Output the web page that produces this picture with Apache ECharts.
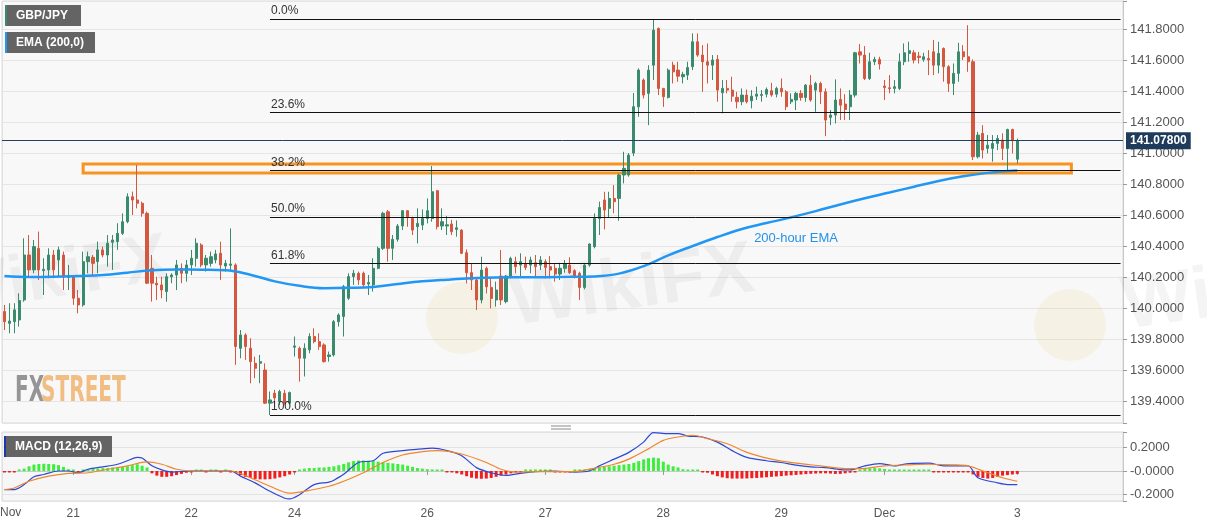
<!DOCTYPE html>
<html><head><meta charset="utf-8">
<script src="https://cdn.jsdelivr.net/npm/echarts@6/dist/echarts.min.js"></script>
<style>html,body{margin:0;padding:0;background:#fff}#c{width:1207px;height:526px}</style>
</head><body><div id="c"></div>
<script>
// hourly slots on the category axis (candles fill the first 207, the rest is empty space)
const slotCount = 228;
const dayTickIndex = [14, 38, 59, 86, 110, 134, 158, 179, 206];
const dayTickLabel = ['21', '22', '24', '26', '27', '28', '29', 'Dec', '3'];
const monthStartIndex = 179;

// GBP/JPY hourly candles: [open, high, low, close]
const candles = [
[139.977,140.020,139.858,139.912],[139.901,140.031,139.837,139.916],[139.912,140.031,139.837,139.988],[139.923,140.095,139.880,140.048],
[140.052,140.450,140.041,140.342],[140.342,140.471,140.202,140.246],[140.246,140.439,140.224,140.396],[140.385,140.493,140.181,140.246],
[140.241,140.321,140.084,140.250],[140.246,140.385,140.192,140.342],[140.342,140.375,140.192,140.246],[140.310,140.396,140.202,140.375],
[140.342,140.364,140.116,140.202],[140.198,140.278,140.116,140.207],[140.202,140.213,140.020,140.063],[140.063,140.116,139.966,140.020],
[140.020,140.364,140.009,140.299],[140.299,140.364,140.224,140.331],[140.327,140.342,140.213,140.288],[140.299,140.428,140.224,140.375],
[140.375,140.396,140.327,140.342],[140.342,140.471,140.267,140.418],[140.424,140.471,140.246,140.439],[140.428,140.547,140.375,140.482],
[140.482,140.611,140.471,140.557],[140.557,140.740,140.547,140.718],[140.718,140.751,140.600,140.697],[140.697,140.923,140.643,140.676],
[140.676,140.686,140.589,140.611],[140.611,140.622,140.155,140.160],[140.256,140.342,140.041,140.160],[140.160,140.202,140.052,140.149],
[140.149,140.202,140.063,140.116],[140.106,140.224,140.041,140.202],[140.202,140.224,140.160,140.213],[140.213,140.310,140.116,140.278],
[140.256,140.288,140.160,140.224],[140.224,140.310,140.170,140.278],[140.278,140.375,140.213,140.321],[140.321,140.450,140.267,140.418],
[140.407,140.418,140.263,140.278],[140.278,140.342,140.235,140.321],[140.288,140.364,140.267,140.331],[140.310,140.375,140.288,140.349],
[140.353,140.428,140.181,140.278],[140.271,140.310,140.235,140.288],[140.276,140.514,140.235,140.284],[140.278,140.288,139.633,139.751],
[139.740,139.858,139.676,139.826],[139.826,139.837,139.665,139.751],[139.740,139.805,139.514,139.654],[139.643,139.686,139.547,139.611],
[139.644,139.697,139.515,139.654],[139.600,139.643,139.381,139.386],[139.386,139.461,139.310,139.407],[139.450,139.472,139.375,139.420],
[139.396,139.472,139.375,139.461],[139.450,139.472,139.375,139.386],[139.386,139.461,139.375,139.454],[139.747,139.816,139.687,139.755],
[139.740,139.751,139.525,139.676],[139.676,139.772,139.558,139.740],[139.730,139.837,139.708,139.816],[139.816,139.869,139.772,139.783],
[139.783,139.837,139.730,139.751],[139.762,139.772,139.648,139.654],[139.687,139.719,139.654,139.697],[139.697,139.923,139.687,139.912],
[139.912,139.966,139.880,139.955],[139.945,140.149,139.816,140.138],[140.063,140.224,140.052,140.203],[140.203,140.246,140.149,140.224],
[140.224,140.235,140.149,140.181],[140.224,140.235,140.138,140.149],[140.155,140.213,140.084,140.164],[140.149,140.321,140.106,140.256],
[140.256,140.396,140.250,140.385],[140.385,140.621,140.374,140.611],[140.621,140.632,140.299,140.385],[140.385,140.471,140.310,140.443],
[140.443,140.542,140.428,140.529],[140.529,140.632,140.503,140.628],[140.628,140.632,140.524,140.589],[140.578,140.589,140.471,140.503],
[140.525,140.643,140.417,140.546],[140.535,140.636,140.503,140.578],[140.578,140.707,140.546,140.628],[140.578,140.916,140.557,140.750],
[140.757,140.760,140.507,140.525],[140.529,140.643,140.503,140.557],[140.529,140.593,140.471,140.537],[140.542,140.568,140.471,140.492],
[140.507,140.565,140.460,140.518],[140.503,140.507,140.348,140.353],[140.357,140.378,140.159,140.228],[140.228,140.288,140.116,140.181],
[140.181,140.191,139.987,140.052],[140.052,140.331,140.030,140.245],[140.256,140.267,140.094,140.137],[140.133,140.198,139.998,140.062],
[140.052,140.170,140.009,140.116],[140.206,140.374,140.019,140.052],[140.041,140.213,140.030,140.206],[140.202,140.331,140.191,140.320],
[140.299,140.331,140.224,140.267],[140.277,140.353,140.206,140.299],[140.284,140.331,140.245,140.262],[140.277,140.331,140.224,140.310],
[140.292,140.342,140.202,140.267],[140.277,140.335,140.245,140.310],[140.299,140.314,140.191,140.262],[140.267,140.335,140.191,140.245],
[140.256,140.288,140.170,140.219],[140.219,140.292,140.181,140.256],[140.256,140.310,140.228,140.284],[140.277,140.327,140.219,140.228],
[140.241,140.250,140.191,140.202],[140.224,140.234,140.052,140.133],[140.133,140.288,140.120,140.277],[140.277,140.417,140.267,140.413],
[140.396,140.611,140.385,140.578],[140.578,140.686,140.471,140.649],[140.697,140.750,140.507,140.632],[140.643,140.750,140.585,140.707],
[140.707,140.793,140.611,140.686],[140.707,140.868,140.563,140.858],[140.858,141.008,140.804,140.901],[140.858,141.000,140.847,140.987],
[141.000,141.387,140.980,141.299],[141.298,141.546,141.234,141.535],[141.471,141.481,141.352,141.374],[141.385,141.567,141.180,141.535],
[141.567,141.862,141.471,141.793],[141.804,141.810,141.374,141.417],[141.417,141.420,141.298,141.363],[141.359,141.546,141.352,141.535],
[141.567,141.589,141.449,141.524],[141.535,141.589,141.460,141.496],[141.492,141.524,141.449,141.507],[141.503,141.589,141.471,141.552],
[141.557,141.772,141.535,141.718],[141.718,141.772,141.621,141.632],[141.632,141.696,141.395,141.589],[141.589,141.707,141.449,141.567],
[141.567,141.632,141.471,141.600],[141.604,141.632,141.331,141.406],[141.389,141.471,141.256,141.417],[141.417,141.471,141.385,141.406],
[141.406,141.492,141.331,141.367],[141.359,141.395,141.288,141.331],[141.331,141.417,141.309,141.374],[141.374,141.410,141.320,141.331],
[141.337,141.406,141.288,141.367],[141.367,141.428,141.342,141.380],[141.372,141.406,141.331,141.378],[141.380,141.423,141.359,141.410],
[141.402,141.453,141.363,141.374],[141.380,141.428,141.359,141.417],[141.417,141.481,141.363,141.395],[141.395,141.406,141.277,141.299],
[141.331,141.385,141.316,141.346],[141.342,141.395,141.277,141.385],[141.385,141.406,141.337,141.359],[141.359,141.445,141.331,141.438],
[141.438,141.503,141.331,141.342],[141.406,141.460,141.266,141.449],[141.449,141.460,141.316,141.395],[141.395,141.417,141.109,141.213],
[141.230,141.277,141.180,141.245],[141.245,141.475,141.191,141.342],[141.346,141.417,141.213,141.309],[141.316,141.380,141.213,141.281],
[141.299,141.406,141.213,141.374],[141.374,141.653,141.359,141.647],[141.653,141.703,141.578,141.632],[141.632,141.690,141.471,141.481],
[141.481,141.647,141.471,141.589],[141.589,141.621,141.567,141.604],[141.604,141.621,141.539,141.574],[141.432,141.471,141.342,141.423],
[141.421,141.503,141.385,141.415],[141.417,141.471,141.385,141.428],[141.417,141.643,141.406,141.589],[141.589,141.707,141.567,141.647],
[141.643,141.718,141.589,141.660],[141.647,141.664,141.578,141.600],[141.625,141.653,141.578,141.617],[141.604,141.647,141.589,141.621],
[141.610,141.664,141.503,141.600],[141.653,141.729,141.503,141.567],[141.567,141.718,141.514,141.643],[141.675,141.681,141.460,141.557],
[141.557,141.567,141.395,141.449],[141.449,141.578,141.374,141.514],[141.514,141.711,141.460,141.653],[141.653,141.696,141.600,141.621],
[141.621,141.825,141.524,141.589],[141.589,141.604,140.955,140.976],[140.976,141.137,140.965,141.116],[141.127,141.180,140.965,141.019],
[141.030,141.116,140.998,141.051],[141.030,141.116,140.944,141.062],[141.062,141.116,141.019,141.094],[141.084,141.127,140.955,141.030],
[141.030,141.157,140.886,141.152],[141.152,141.157,140.998,141.084],[140.960,141.094,140.933,141.078]
];

// 200-hour EMA: [slot index, value]
const emaPoints = [
[0,140.206],[5,140.200],[10,140.202],[15,140.207],[20,140.213],[25,140.228],[30,140.244],[35,140.248],[40,140.247],
[45,140.244],[50,140.215],[55,140.172],[60,140.143],[65,140.128],[70,140.130],[75,140.136],[80,140.155],[85,140.172],
[90,140.183],[95,140.192],[100,140.197],[105,140.198],[110,140.199],[115,140.201],[120,140.204],[125,140.222],[130,140.270],
[135,140.340],[140,140.400],[145,140.458],[150,140.510],[155,140.548],[160,140.585],[165,140.625],[170,140.668],[175,140.708],
[180,140.745],[185,140.783],[190,140.820],[195,140.850],[200,140.872],[206,140.887]
];

// MACD (12,26,9)
const macdPoints = [
[0,-0.16],[2,-0.16],[4,-0.117],[6,-0.05],[8,-0.03],[11,0],[13,0],[15,-0.015],[17,0.015],[20,0.035],[23,0.058],[25,0.088],
[27,0.117],[28,0.111],[30,0.044],[32,0.009],[34,-0.009],[38,0],[42,0],[46,0],[48,-0.044],[51,-0.102],[54,-0.175],[57,-0.234],
[58,-0.24],[60,-0.204],[63,-0.117],[66,-0.096],[67,-0.079],[69,-0.029],[72,0.073],[75,0.088],[77,0.152],[81,0.175],[85,0.19],
[87,0.196],[90,0.175],[93,0.131],[96,0.029],[99,-0.015],[102,-0.038],[105,-0.02],[108,-0.006],[112,0],[116,-0.009],[119,0],
[121,0.044],[124,0.102],[127,0.16],[130,0.248],[132,0.33],[135,0.321],[137,0.321],[139,0.30],[142,0.292],[145,0.248],[148,0.175],
[151,0.117],[155,0.088],[158,0.073],[161,0.05],[164,0.035],[167,0.029],[171,0.009],[172,0.009],[175,0.044],[178,0.064],[181,0.044],
[184,0.064],[188,0.067],[191,0.044],[194,0.044],[196,0.044],[198,-0.058],[202,-0.102],[204,-0.117],[206,-0.117]
];
const signalPoints = [
[0,-0.16],[2,-0.146],[5,-0.088],[9,-0.044],[13,-0.02],[17,-0.015],[21,0.015],[25,0.044],[29,0.079],[32,0.058],[35,0.015],
[38,0],[46,0],[50,-0.058],[54,-0.131],[58,-0.19],[61,-0.175],[66,-0.131],[69,-0.088],[73,-0.015],[77,0.073],[81,0.137],
[85,0.166],[88,0.175],[93,0.146],[98,0.073],[101,0.015],[104,-0.009],[108,-0.005],[116,-0.005],[119,0.015],[124,0.058],
[127,0.102],[131,0.19],[134,0.263],[137,0.292],[140,0.307],[143,0.277],[147,0.234],[151,0.16],[156,0.102],[161,0.067],
[166,0.044],[171,0.02],[174,0.02],[179,0.044],[184,0.053],[188,0.058],[193,0.053],[196,0.044],[200,-0.015],[203,-0.058],[206,-0.088]
];
const histValues = [
-0.005,-0.01,-0.005,0.005,0.02,0.04,0.055,0.06,0.062,0.06,0.058,0.05,0.035,0.015,0.005,-0.005,
0.01,0.015,0.02,0.02,0.025,0.025,0.03,0.03,0.035,0.04,0.05,0.058,0.045,0.03,
-0.02,-0.04,-0.05,-0.05,-0.045,-0.035,-0.025,-0.015,-0.008,0.003,0.002,-0.002,0.002,0.003,-0.002,0.002,-0.003,
-0.015,-0.035,-0.05,-0.06,-0.068,-0.072,-0.072,-0.07,-0.065,-0.055,-0.045,-0.03,-0.01,
0.01,0.02,0.025,0.025,0.03,0.03,0.035,0.04,0.05,0.06,0.075,0.085,0.09,0.09,0.088,0.085,0.08,0.075,0.07,0.065,0.06,0.055,0.045,0.035,0.025,0.02,0.015,0.012,0.008,0.005,
-0.005,-0.01,-0.02,-0.03,-0.045,-0.058,-0.065,-0.067,-0.065,-0.06,-0.05,-0.04,-0.03,-0.02,-0.012,-0.005,
0.003,0.004,0.005,0.004,0.003,0.002,-0.002,-0.003,-0.003,-0.002,0.002,0.004,0.008,
0.02,0.025,0.03,0.035,0.04,0.045,0.05,0.055,0.06,0.07,0.085,0.1,0.11,0.115,0.11,0.08,0.055,0.04,0.03,0.015,0.008,0.004,0.002,
-0.005,-0.015,-0.03,-0.045,-0.055,-0.062,-0.065,-0.065,-0.065,-0.064,-0.062,-0.06,-0.057,-0.054,-0.05,-0.047,-0.044,-0.04,-0.037,-0.034,-0.03,-0.027,-0.024,-0.022,-0.02,-0.02,-0.022,-0.025,-0.025,-0.02,-0.015,-0.005,
0.01,0.02,0.023,0.025,0.022,0.018,0.01,0.004,0.004,0.005,0.006,0.005,0.004,0.003,0.002,
-0.003,-0.004,-0.008,-0.01,-0.008,-0.006,-0.005,-0.01,-0.03,-0.05,-0.06,-0.065,-0.06,-0.05,-0.04,-0.035,-0.03,-0.025
];

// Fibonacci retracement levels and support zone
const fibLevels = [141.865, 141.262, 140.889, 140.588, 140.287, 139.310];
const fibLabels = ['0.0%', '23.6%', '38.2%', '50.0%', '61.8%', '100.0%'];
const fibStartIndex = 54;
const zoneBounds = [140.871, 140.930];
const zoneIndexRange = [16, 217];
const lastPrice = 141.078;
const emaLabelAt = [161, 140.452];

const chart = echarts.init(document.getElementById('c'));
const slots = [];
for (let i = 0; i < slotCount; i++) slots.push('h' + i);
const isFifth = v => Math.abs(v * 5 - Math.round(v * 5)) < 1e-6;
const labelAt = idx => dayTickIndex.indexOf(idx);
const FONT = '"Liberation Sans", Arial, sans-serif';
const LOGO_FONT = 'bold 36px "Liberation Sans Narrow", "DejaVu Sans Condensed", sans-serif';

const legendBox = (x, y, w, h, stripe, text) => ([
  {type:'rect', z:100, shape:{x:x, y:y, width:w, height:h}, style:{fill:'#646464'}},
  {type:'rect', z:101, shape:{x:x, y:y, width:2, height:h}, style:{fill:stripe}},
  {type:'text', z:102, x:x + 11, y:y + h / 2, style:{text:text, fill:'#fff', font:'bold 12px ' + FONT, textVerticalAlign:'middle'}}
]);

const option = {
  animation:false,
  backgroundColor:'#ffffff',
  textStyle:{fontFamily:FONT},
  grid:[
    {left:2, right:84, top:1, height:422, show:true, backgroundColor:'#f8f8f8', borderColor:'#d9d9d9', borderWidth:1, outerBoundsMode:'none'},
    {left:2, right:84, top:432, height:69, show:true, backgroundColor:'#f6f6f6', borderColor:'#d9d9d9', borderWidth:1, outerBoundsMode:'none'}
  ],
  xAxis:[
    {type:'category', gridIndex:0, data:slots, boundaryGap:true,
     axisLine:{show:false}, axisTick:{show:false}, axisLabel:{show:false},
     splitLine:{show:true, interval:(i)=>i===monthStartIndex, lineStyle:{color:'#e2e2e2'}}},
    {type:'category', gridIndex:1, data:slots, boundaryGap:true,
     axisLine:{show:true, lineStyle:{color:'#c8c8c8'}},
     axisTick:{show:true, alignWithLabel:true, interval:(i)=>labelAt(i)>=0, length:4, lineStyle:{color:'#999'}},
     axisLabel:{show:true, interval:(i)=>labelAt(i)>=0, formatter:(v,i)=>{const k=labelAt(i); return k>=0?dayTickLabel[k]:'';}, color:'#555', fontSize:12, margin:7},
     splitLine:{show:true, interval:(i)=>i===monthStartIndex, lineStyle:{color:'#e2e2e2'}}}
  ],
  yAxis:[
    {type:'value', gridIndex:0, position:'right', min:139.258, max:141.981, splitNumber:13, scale:true,
     axisLine:{show:true, lineStyle:{color:'#c8c8c8'}}, axisTick:{show:true, length:4, lineStyle:{color:'#999'}},
     axisLabel:{color:'#555', fontSize:13, margin:7, formatter:v=>isFifth(v)?v.toFixed(4):''},
     splitLine:{show:true, lineStyle:{color:'#e5e5e5'}}},
    {type:'value', gridIndex:1, position:'right', min:-0.258, max:0.335, splitNumber:3,
     axisLine:{show:true, lineStyle:{color:'#c8c8c8'}}, axisTick:{show:true, length:4, lineStyle:{color:'#999'}},
     axisLabel:{color:'#555', fontSize:13, margin:7, formatter:v=>!isFifth(v)?'':(Math.abs(v)<1e-9?'-0.0000':v.toFixed(4))},
     splitLine:{show:true, lineStyle:{color:'#e3e3e3'}}}
  ],
  series:[
    {type:'candlestick', name:'GBP/JPY', xAxisIndex:0, yAxisIndex:0, barWidth:2.6, z:2,
     data:candles.map(r=>[r[0], r[3], r[2], r[1]]),
     itemStyle:{color:'#3a8b6d', color0:'#d4573f', borderColor:'#3a8b6d', borderColor0:'#d4573f', borderWidth:1},
     markLine:{symbol:['none','none'], silent:true, animation:false,
       data:fibLevels.map((v,k)=>[
         {coord:[fibStartIndex, v], lineStyle:{color:'#111', width:1, type:'solid'},
          label:{show:true, position:'insideStartTop', formatter:fibLabels[k], color:'#333', fontSize:12, distance:[1,2]}},
         {coord:[slotCount-1, v]}
       ]).concat([
         {yAxis:lastPrice, lineStyle:{color:'#24405f', width:1, type:'solid'},
          label:{show:true, position:'end', formatter:lastPrice.toFixed(5), backgroundColor:'#1f3b5c', color:'#fff', fontWeight:'bold', fontSize:12, padding:[3,4,2,4], distance:3}}
       ])},
     markArea:{silent:true, itemStyle:{color:'rgba(0,0,0,0)', borderColor:'#f7931e', borderWidth:3},
       data:[[{coord:[zoneIndexRange[0], zoneBounds[1]]}, {coord:[zoneIndexRange[1], zoneBounds[0]]}]]}
    },
    {type:'line', name:'EMA (200,0)', xAxisIndex:0, yAxisIndex:0, data:emaPoints, smooth:0.4, showSymbol:false, z:3,
     lineStyle:{color:'#2196f3', width:2.5},
     markPoint:{silent:true, symbol:'rect', symbolSize:1, itemStyle:{color:'rgba(0,0,0,0)'},
       data:[{coord:emaLabelAt, label:{show:true, position:'inside', formatter:'200-hour EMA', color:'#2592e6', fontSize:13}}]}},
    {type:'bar', name:'hist', xAxisIndex:1, yAxisIndex:1, data:histValues, barWidth:3, barMinHeight:1.5,
     itemStyle:{color:p=>p.value>=0?'#3cef3c':'#f01e1e'}},
    {type:'line', name:'MACD', xAxisIndex:1, yAxisIndex:1, data:macdPoints, smooth:0.3, showSymbol:false, z:4,
     lineStyle:{color:'#2d47d6', width:1.2}},
    {type:'line', name:'Signal', xAxisIndex:1, yAxisIndex:1, data:signalPoints, smooth:0.3, showSymbol:false, z:4,
     lineStyle:{color:'#f0862a', width:1.2}}
  ],
  graphic:{elements:[].concat(
    legendBox(5, 5, 76, 21, '#3a8b6d', 'GBP/JPY'),
    legendBox(5, 32, 90, 21, '#2196f3', 'EMA (200,0)'),
    legendBox(4, 436, 108, 21, '#1b3aa8', 'MACD (12,26,9)'),
    [
      {type:'text', z:1, x:-60, y:262, rotation:0.16, style:{text:'WikiFX', fill:'rgba(0,0,0,0.045)', font:'bold 68px ' + FONT}},
      {type:'circle', z:1, shape:{cx:462, cy:318, r:36}, style:{fill:'rgba(240,190,70,0.10)'}},
      {type:'text', z:1, x:505, y:268, rotation:0.14, style:{text:'WikiFX', fill:'rgba(0,0,0,0.045)', font:'bold 74px ' + FONT}},
      {type:'circle', z:1, shape:{cx:1070, cy:325, r:36}, style:{fill:'rgba(240,190,70,0.10)'}},
      {type:'text', z:1, x:1118, y:272, rotation:0.14, style:{text:'WikiFX', fill:'rgba(0,0,0,0.045)', font:'bold 74px ' + FONT}},
      {type:'text', z:5, x:15, y:374, scaleX:0.62, style:{text:'FX', fill:'#959595', font:LOGO_FONT}},
      {type:'text', z:5, x:41, y:374, scaleX:0.62, style:{text:'STREET', fill:'#f1bd82', font:LOGO_FONT}},
      {type:'line', z:5, shape:{x1:551, y1:426, x2:571, y2:426}, style:{stroke:'#888', lineWidth:1}},
      {type:'line', z:5, shape:{x1:551, y1:429, x2:571, y2:429}, style:{stroke:'#888', lineWidth:1}},
      {type:'text', z:5, x:0, y:513, style:{text:'Nov', fill:'#555', font:'12px ' + FONT, textVerticalAlign:'middle'}}
    ]
  )}
};
chart.setOption(option);
</script>
</body></html>
